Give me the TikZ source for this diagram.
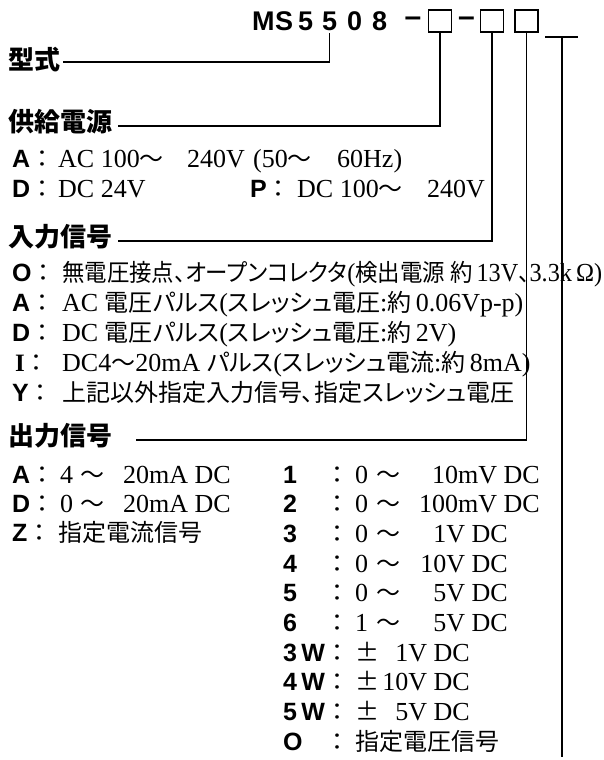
\documentclass[tikz,border=0pt]{standalone}
\usepackage{fontspec}
\usepackage{graphicx}
\setmainfont{Liberation Serif}
\newfontfamily\jpfont[RawFeature=+palt]{Noto Sans CJK JP}
\newfontfamily\jhfont{Noto Sans CJK JP}
\newfontfamily\labfont{Liberation Sans}
\newcommand\jx[1]{{\jpfont\fontsize{24}{24}\selectfont #1}}
\newcommand\jf[1]{{\jhfont\fontsize{24}{24}\selectfont #1}}
\newcommand\jc{{\jhfont\mdseries\fontsize{24}{24}\selectfont ：}}
\begin{document}
\begin{tikzpicture}[x=1pt,y=-1pt,
  ln/.style={line width=1.4pt},
  head/.style={anchor=west,inner sep=0pt,font=\jhfont\bfseries\fontsize{26}{26}\selectfont},
  code/.style={anchor=base west,inner sep=0pt,font=\labfont\bfseries\fontsize{27}{27}\selectfont},
  lab/.style={anchor=base west,inner sep=0pt,font=\labfont\bfseries\fontsize{25}{25}\selectfont},
  txt/.style={anchor=base west,inner sep=0pt,font=\fontsize{26}{26}\selectfont},
  txte/.style={anchor=base east,inner sep=0pt,font=\fontsize{26}{26}\selectfont},
  box/.style={draw,line width=1.4pt,minimum width=23pt,minimum height=22pt,inner sep=0pt}]
\useasboundingbox (0,0) rectangle (603,760);
% ---- model code
\node[code] (cM) at (252,31) {M};
\node[code] (cS) at (275,31) {S};
\node[code] (c1) at (298,31) {5};
\node[code] (c2) at (322,31) {5};
\node[code] (c3) at (347,31) {0};
\node[code] (c4) at (372,31) {8};
\node[inner sep=0pt,font=\labfont\bfseries\fontsize{30}{30}\selectfont] (d1) at (413,22) {–};
\node[box] (b1) at (440,21) {};
\node[inner sep=0pt,font=\labfont\bfseries\fontsize{30}{30}\selectfont] (d2) at (466.5,22) {–};
\node[box] (b2) at (492,21) {};
\node[box] (b3) at (526.5,21) {};
\coordinate (tl) at (545,37);
\coordinate (tr) at (578,37);
\coordinate (tm) at (562,37);
\coordinate (bot) at (562,757);
\draw[ln] (tl) -- (tr);
\draw[ln] (tm) -- (bot);
% ---- headings
\node[head] (h1) at (8,60) {型式};
\node[head] (h2) at (8,122) {供給電源};
\node[head] (h3) at (8,237) {入力信号};
\node[head] (h4) at (8,436) {出力信号};
\coordinate (l1) at (63,62);
\coordinate (l2) at (118,126);
\coordinate (l3) at (118,241);
\coordinate (l4) at (136,440);
\draw[ln] (l1) -| ([yshift=-2pt]c2.south);
\draw[ln] (l2) -| (b1.south);
\draw[ln] (l3) -| (b2.south);
\draw[ln] (l4) -| (b3.south);
% ---- supply
\node[lab] (sA) at (12,167) {A\jc};
\node[txt] (sA1) at (58,167) {AC 100\jf{～}};
\node[txt] (sA2) at (187,167) {240V};
\node[txt] (sA3) at (253,167) {(50\jf{～}};
\node[txt] (sA4) at (337,167) {60Hz)};
\node[lab] (sD) at (12,197) {D\jc};
\node[txt] (sD1) at (58,197) {DC 24V};
\node[lab] (sP) at (250,197) {P\jc};
\node[txt] (sP1) at (297,197) {DC 100\jf{～}};
\node[txt] (sP2) at (427,197) {240V};
% ---- input
\node[lab] (iO) at (12,281) {O\jc};
\node[txt] (iO1) at (62,281) {\resizebox{540pt}{\height}{\jx{無電圧接点、オープンコレクタ}(\jx{検出電源 約}\,13V\jx{、}3.3k\,Ω)}};
\node[lab] (iA) at (12,311) {A\jc};
\node[txt] (iA1) at (62,311) {AC \jx{電圧パルス}(\jx{スレッシュ電圧}:\jx{約}\,0.06Vp-p)};
\node[lab] (iD) at (12,341) {D\jc};
\node[txt] (iD1) at (62,341) {DC \jx{電圧パルス}(\jx{スレッシュ電圧}:\jx{約}\,2V)};
\node[lab] (iI) at (15,371) {\rmfamily I\jc};
\node[txt] (iI1) at (62,371) {DC4\jx{～}20mA \jx{パルス}(\jx{スレッシュ電流}:\jx{約}\,8mA)};
\node[lab] (iY) at (12,401) {Y\jc};
\node[txt] (iY1) at (62,401) {\jx{上記以外指定入力信号、指定スレッシュ電圧}};
% ---- output, left
\node[lab] (oA) at (12,483) {A\jc};
\node[txt] (oA1) at (60,483) {4};
\node[txt] (oA2) at (80,483) {\jf{～}};
\node[txt] (oA3) at (123,483) {20mA DC};
\node[lab] (oD) at (12,512) {D\jc};
\node[txt] (oD1) at (60,512) {0};
\node[txt] (oD2) at (80,512) {\jf{～}};
\node[txt] (oD3) at (123,512) {20mA DC};
\node[lab] (oZ) at (12,541) {Z\jc};
\node[txt] (oZ1) at (58,541) {\jx{指定電流信号}};
% ---- output, right
\foreach \n/\lb/\a/\b/\e [count=\k from 0] in
  {r1/1/0/10mV DC/540, r2/2/0/100mV DC/540, r3/3/0/1V DC/508,
   r4/4/0/10V DC/508, r5/5/0/5V DC/508, r6/6/1/5V DC/508}{
  \node[lab] (\n) at (283,483+29.7*\k) {\lb};
  \node[lab] (\n c) at (325,483+29.7*\k) {\jc};
  \node[txt] (\n a) at (355,483+29.7*\k) {\a};
  \node[txt] (\n t) at (376,483+29.7*\k) {\jf{～}};
  \node[txte] (\n v) at (\e,483+29.7*\k) {\b};
}
\foreach \n/\lb/\b [count=\k from 6] in {w3/3/1V DC, w4/4/10V DC, w5/5/5V DC}{
  \node[lab] (\n) at (283,483+29.7*\k) {\lb\,W};
  \node[lab] (\n c) at (325,483+29.7*\k) {\jc};
  \node[txt] (\n p) at (355,483+29.7*\k) {\jf{±}};
  \node[txte] (\n v) at (470,483+29.7*\k) {\b};
}
\node[lab] (z0) at (283,750) {O};
\node[lab] (z0c) at (325,750) {\jc};
\node[txt] (z0t) at (355,750) {\jx{指定電圧信号}};
\end{tikzpicture}
\end{document}
